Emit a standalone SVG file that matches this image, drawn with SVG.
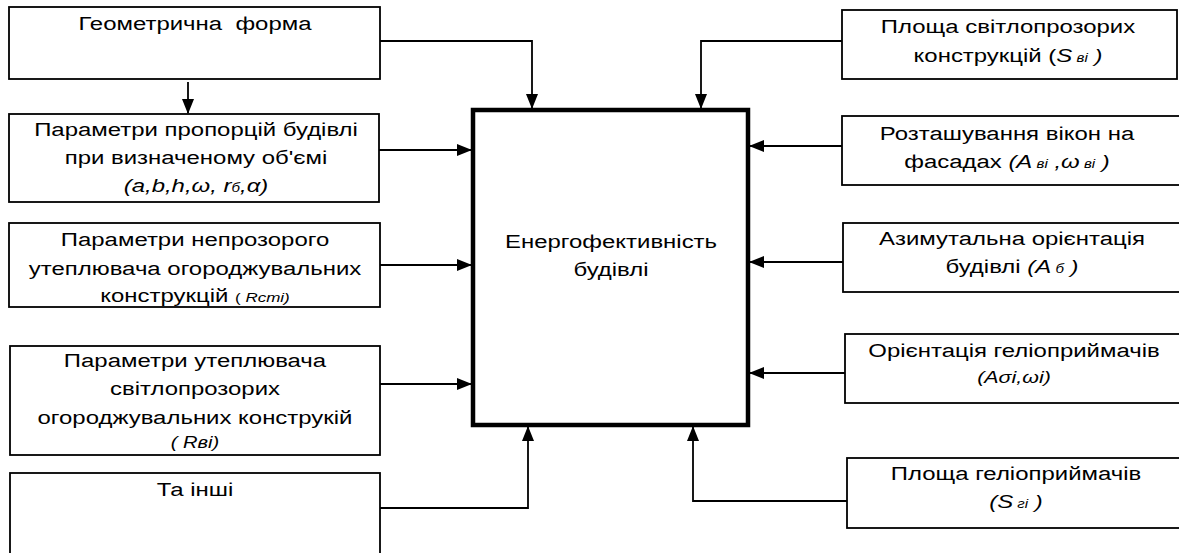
<svg xmlns="http://www.w3.org/2000/svg" width="1179" height="553" viewBox="0 0 1179 553">
<style>
.box{fill:#fff;stroke:#000;stroke-width:1.8}
.main{fill:#fff;stroke:#000;stroke-width:4.5}
.t{font-family:"Liberation Sans",Arial,sans-serif;font-size:19px;fill:#000;text-anchor:middle}
.i{font-style:italic}
.s{font-size:12px}
.m{font-size:16px}
.c{fill:none;stroke:#000;stroke-width:1.8}
</style>
<defs>
<marker id="arr" markerWidth="15" markerHeight="12" refX="14" refY="6" orient="auto" markerUnits="userSpaceOnUse">
<path d="M0,0 L15,6 L0,12 Z" fill="#000"/>
</marker>
</defs>
<rect width="1179" height="553" fill="#fff"/>

<g id="n-main">
<rect class="main" x="473" y="110" width="275" height="315"/>
<g transform="translate(611 0) scale(1.26 1)">
<text class="t" x="0" y="248">Енергофективність</text>
<text class="t" x="0" y="276">будівлі</text>
</g>
</g>

<g id="n-geom">
<rect class="box" x="9" y="7" width="371" height="72"/>
<g transform="translate(195 0) scale(1.26 1)">
<text class="t" x="0" y="30" xml:space="preserve">Геометрична  форма</text>
</g>
</g>

<g id="n-prop">
<rect class="box" x="9" y="114" width="370" height="88"/>
<g transform="translate(196 0) scale(1.26 1)">
<text class="t" x="0" y="136">Параметри пропорцій будівлі</text>
<text class="t" x="0" y="164">при визначеному об'ємі</text>
<text class="t i" x="0" y="192">(a,b,h,ω, r<tspan class="s">б</tspan>,α)</text>
</g>
</g>

<g id="n-opaque">
<rect class="box" x="9" y="223" width="371" height="84"/>
<g transform="translate(195 0) scale(1.26 1)">
<text class="t" x="0" y="246">Параметри непрозорого</text>
<text class="t" x="0" y="275">утеплювача огороджувальних</text>
<text class="t" x="0" y="302">конструкцій <tspan style="font-size:13.5px">(</tspan><tspan style="font-size:13.5px" class="i"> Rcmi)</tspan></text>
</g>
</g>

<g id="n-glazing">
<rect class="box" x="10" y="346" width="370" height="109"/>
<g transform="translate(195 0) scale(1.26 1)">
<text class="t" x="0" y="367">Параметри утеплювача</text>
<text class="t" x="0" y="395">світлопрозорих</text>
<text class="t" x="0" y="424">огороджувальних конструкій</text>
<text class="t m i" x="0" y="448">( Rвi)</text>
</g>
</g>

<g id="n-other">
<rect class="box" x="10" y="473" width="370" height="100"/>
<g transform="translate(195 0) scale(1.26 1)">
<text class="t" x="0" y="496">Та інші</text>
</g>
</g>

<g id="n-area">
<rect class="box" x="842" y="10" width="335" height="69"/>
<g transform="translate(1008 0) scale(1.26 1)">
<text class="t" x="0" y="33">Площа світлопрозорих</text>
<text class="t" x="0" y="62">конструкцій (<tspan class="i">S</tspan><tspan class="s i"> вi</tspan><tspan class="i"> )</tspan></text>
</g>
</g>

<g id="n-windows">
<rect class="box" x="842" y="116" width="360" height="69"/>
<g transform="translate(1007 0) scale(1.26 1)">
<text class="t" x="0" y="140">Розташування вікон на</text>
<text class="t" x="0" y="168">фасадах <tspan class="i">(A</tspan><tspan class="s i"> вi</tspan><tspan class="i"> ,ω</tspan><tspan class="s i"> вi</tspan><tspan class="i"> )</tspan></text>
</g>
</g>

<g id="n-azimuth">
<rect class="box" x="843" y="223" width="360" height="69"/>
<g transform="translate(1012 0) scale(1.26 1)">
<text class="t" x="0" y="245">Азимутальна орієнтація</text>
<text class="t" x="0" y="273">будівлі <tspan class="i">(A</tspan><tspan class="s i"> б</tspan><tspan class="i"> )</tspan></text>
</g>
</g>

<g id="n-orient">
<rect class="box" x="845" y="334" width="360" height="69"/>
<g transform="translate(1014 0) scale(1.26 1)">
<text class="t" x="0" y="357">Орієнтація геліоприймачів</text>
<text class="t i" style="font-size:17px" x="0" y="383">(Aσi,ωi)</text>
</g>
</g>

<g id="n-collector">
<rect class="box" x="847" y="458" width="360" height="70"/>
<g transform="translate(1016 0) scale(1.26 1)">
<text class="t" x="0" y="480">Площа геліоприймачів</text>
<text class="t" x="0" y="508"><tspan class="i">(S</tspan><tspan class="s i"> гi</tspan><tspan class="i"> )</tspan></text>
</g>
</g>

<g id="connectors">
<path class="c" d="M188,82 V113" marker-end="url(#arr)"/>
<path class="c" d="M380,41 H532 V108" marker-end="url(#arr)"/>
<path class="c" d="M842,41 H701 V108" marker-end="url(#arr)"/>
<path class="c" d="M379,150 H471" marker-end="url(#arr)"/>
<path class="c" d="M380,265 H471" marker-end="url(#arr)"/>
<path class="c" d="M380,384 H471" marker-end="url(#arr)"/>
<path class="c" d="M380,508 H528 V427" marker-end="url(#arr)"/>
<path class="c" d="M842,146 H750" marker-end="url(#arr)"/>
<path class="c" d="M843,262 H750" marker-end="url(#arr)"/>
<path class="c" d="M845,373 H750" marker-end="url(#arr)"/>
<path class="c" d="M847,501 H693 V427" marker-end="url(#arr)"/>
</g>
</svg>
